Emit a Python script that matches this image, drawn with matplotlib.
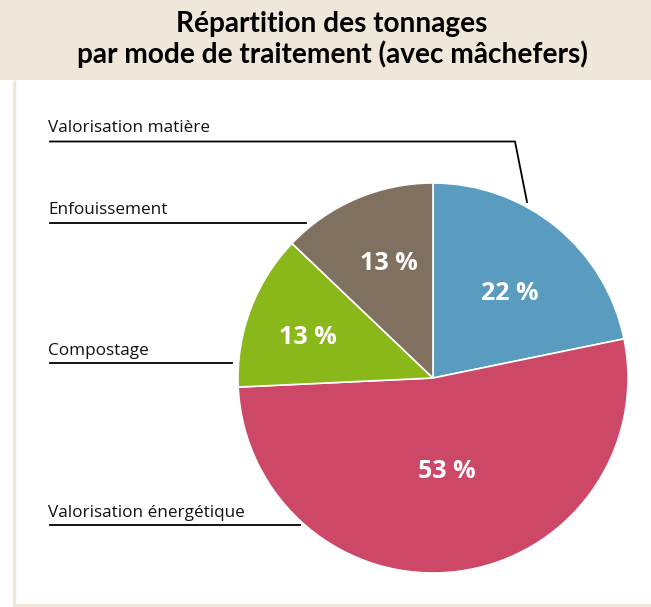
import matplotlib
matplotlib.use("Agg")
import matplotlib.pyplot as plt
from matplotlib.patches import Rectangle

categories = ["Valorisation matière", "Valorisation énergétique", "Compostage", "Enfouissement"]
values = [22, 53, 13, 13]
pct_labels = ["22 %", "53 %", "13 %", "13 %"]
colors = ["#5a9bc0", "#cc4866", "#8ab81b", "#807060"]
title_lines = ["Répartition des tonnages", "par mode de traitement (avec mâchefers)"]

W, H = 651, 607
fig = plt.figure(figsize=(W / 100, H / 100), dpi=100)
ax = fig.add_axes([0, 0, 1, 1])

def Y(py):
    return H - py

title_font = ["Lato", "DejaVu Sans"]
label_font = ["Open Sans", "DejaVu Sans"]

beige = "#efe7d9"
# title band
ax.add_patch(Rectangle((0, Y(80)), W, 80, facecolor=beige, edgecolor="none", zorder=0))
# panel border
ax.plot([14, 14], [Y(80), Y(606.5)], color=beige, lw=2.3, solid_capstyle="butt", zorder=0)
ax.plot([12.5, W], [Y(605), Y(605)], color=beige, lw=2.3, solid_capstyle="butt", zorder=0)

ax.text(332, Y(32), title_lines[0], ha="center", va="baseline", fontsize=20.2,
        fontweight="bold", family=title_font, color="#000000")
ax.text(332, Y(63.5), title_lines[1], ha="center", va="baseline", fontsize=20.2,
        fontweight="bold", family=title_font, color="#000000")

cx, cy, r = 433, Y(378), 195
wedges, _ = ax.pie(values, colors=colors, startangle=90, counterclock=False,
                   center=(cx, cy), radius=r,
                   wedgeprops=dict(edgecolor="white", linewidth=1.2))

pct_pos = [(510, 294), (447, 471), (308, 337), (389, 264)]
for (px, py), t in zip(pct_pos, pct_labels):
    ax.text(px, Y(py), t, ha="center", va="center", fontsize=18, fontweight="bold",
            color="white", family=label_font)

# leader lines and labels
lw = 1.3
fs = 12.3
ax.plot([50, 515, 527], [Y(141.5), Y(141.5), Y(202)], color="black", lw=lw)
ax.text(48, Y(132), categories[0], ha="left", va="baseline", fontsize=fs, family=label_font, color="#111111")

ax.plot([50, 306], [Y(222.5), Y(222.5)], color="black", lw=lw)
ax.text(48, Y(214), categories[3], ha="left", va="baseline", fontsize=fs, family=label_font, color="#111111")

ax.plot([50, 232], [Y(363), Y(363)], color="black", lw=lw)
ax.text(48, Y(355), categories[2], ha="left", va="baseline", fontsize=fs, family=label_font, color="#111111")

ax.plot([50, 300], [Y(525), Y(525)], color="black", lw=lw)
ax.text(48, Y(517), categories[1], ha="left", va="baseline", fontsize=fs, family=label_font, color="#111111")

ax.set_xlim(0, W)
ax.set_ylim(0, H)
ax.set_aspect("auto")
ax.axis("off")

fig.savefig("out.png", dpi=100, facecolor="white")
